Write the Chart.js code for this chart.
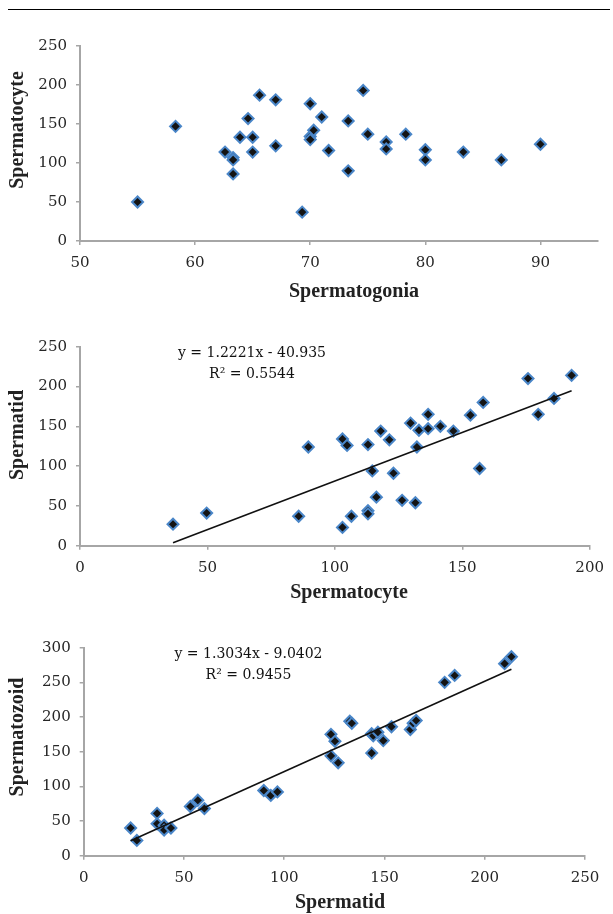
<!DOCTYPE html>
<html>
<head>
<meta charset="utf-8">
<script src="https://cdn.jsdelivr.net/npm/chart.js@4.4.0/dist/chart.umd.min.js"></script>
<style>
  body { margin: 0; background: #fff; }
  #page { position: relative; width: 613px; height: 914px; overflow: hidden; background: #fff; }
  #rule { position: absolute; left: 8px; top: 8.5px; width: 602px; height: 0; border-top: 1.5px solid #000; }
  canvas { position: absolute; left: 0; }
</style>
</head>
<body>
<div id="page">
  <div id="rule"></div>
  <canvas id="goniachart" width="613" height="310" style="top:0px"></canvas>
  <canvas id="cytechart" width="613" height="300" style="top:310px"></canvas>
  <canvas id="tidchart" width="613" height="304" style="top:610px"></canvas>
</div>
<script>
  // SPERMATOGONIA vs SPERMATOCYTE
  const spermatogonia_1 = [55, 58.3, 62.6, 63.3, 63.3, 63.3, 63.9, 64.6, 65, 65, 65.6, 67, 67, 69.3, 70, 70,
                           70, 70.3, 71, 71.6, 73.3, 73.3, 74.6, 75, 76.6, 76.6, 78.3, 80, 80, 83.3, 86.6, 90];
  const spermatocyte_1 = [50, 147, 114, 107, 104, 86, 133, 157, 133, 114, 187, 181, 122, 37, 176, 134,
                          130, 142, 159, 116, 154, 90, 193, 137, 127, 118, 137, 117, 104, 114, 104, 124];

  // SPERMATOCYTE vs SPERMATID
  const spermatocyte_2 = [36.5, 49.7, 85.8, 89.6, 103, 103, 104.8, 106.5, 113, 113, 113, 114.7, 116.3, 118, 121.4, 123,
                          126.4, 129.7, 131.6, 132.2, 133, 136.6, 136.6, 141.4, 146.5, 153.2, 156.8, 158.2, 175.8, 179.8, 186, 192.9];
  const spermatid_2 = [27, 41, 37, 124, 134, 23, 126, 37, 127, 44, 40, 94, 61, 144, 133, 91,
                       57, 154, 54, 124, 145, 165, 147, 150, 144, 164, 97, 180, 210, 165, 185, 214];
  const trend_x_2 = [36.5, 192.9];
  const trend_y_2 = [3.7, 194.8];
  const equation_2 = ['y = 1.2221x - 40.935', 'R² = 0.5544'];

  // SPERMATID vs SPERMATOZOID
  const spermatid_3 = [23.4, 26.5, 36.6, 36.6, 40.1, 40.1, 43.5, 53.2, 56.9, 60.2, 89.8, 93.3, 96.6, 123.3, 123.3, 125.3,
                       126.9, 132.7, 133.7, 143.6, 143.6, 144.4, 146.7, 149.4, 153.5, 162.9, 164.3, 165.8, 180, 185, 209.9, 213.3];
  const spermatozoid_3 = [40, 22, 61, 46, 44, 37, 40, 71, 80, 68, 94, 87, 92, 175, 144, 165,
                          134, 194, 191, 148, 176, 173, 178, 166, 186, 182, 191, 195, 250, 260, 277, 287];
  const trend_x_3 = [23.4, 213.3];
  const trend_y_3 = [21.5, 269];
  const equation_3 = ['y = 1.3034x - 9.0402', 'R² = 0.9455'];

  const titles_1 = ['Spermatogonia', 'Spermatocyte'];
  const titles_2 = ['Spermatocyte', 'Spermatid'];
  const titles_3 = ['Spermatid', 'Spermatozoid'];

  Chart.defaults.font.family = "'DejaVu Serif', serif";
  Chart.defaults.color = '#262626';

  const axis_grey = '#a6a6a6';
  const toPoints = (xs, ys) => xs.map((x, i) => ({x: x, y: ys[i]}));

  const pointSet = (xs, ys) => ({
    data: toPoints(xs, ys),
    pointStyle: 'rectRot',
    pointRadius: 5.5,
    pointBorderWidth: 2,
    pointBackgroundColor: '#141414',
    pointBorderColor: '#4a86c8',
    showLine: false,
    order: 2
  });

  const trendSet = (xs, ys) => ({
    data: toPoints(xs, ys),
    showLine: true,
    borderColor: '#111',
    borderWidth: 1.6,
    pointRadius: 0,
    order: 1
  });

  const scaleX = (min, max, step, height) => ({
    type: 'linear', min: min, max: max,
    grid: { drawOnChartArea: false, tickLength: 4, color: axis_grey, lineWidth: 1.5 },
    border: { color: axis_grey, width: 2 },
    ticks: { stepSize: step, includeBounds: false, padding: 9, font: { size: 15 } },
    afterFit: (scale) => { scale.height = height; }
  });

  const scaleY = (max, width) => ({
    type: 'linear', min: 0, max: max,
    grid: { drawOnChartArea: false, tickLength: 4, color: axis_grey, lineWidth: 1.5 },
    border: { color: axis_grey, width: 2 },
    ticks: { stepSize: 50, padding: 9, font: { size: 15 } },
    afterFit: (scale) => { scale.width = width; }
  });

  // axis titles (Excel puts them a little off the plot centre)
  const axisTitles = (titles, xPos, yPos) => ({
    id: 'axisTitles',
    afterDraw(chart) {
      const ctx = chart.ctx;
      ctx.save();
      ctx.font = "bold 20px 'Liberation Serif', serif";
      ctx.fillStyle = '#222';
      ctx.textAlign = 'center';
      ctx.textBaseline = 'middle';
      ctx.fillText(titles[0], xPos[0], xPos[1]);
      ctx.translate(yPos[0], yPos[1]);
      ctx.rotate(-Math.PI / 2);
      ctx.fillText(titles[1], 0, 0);
      ctx.restore();
    }
  });

  // trendline equation text
  const equationText = (lines, cx, cy) => ({
    id: 'equationText',
    afterDraw(chart) {
      const ctx = chart.ctx;
      ctx.save();
      ctx.font = "14px 'DejaVu Serif', serif";
      ctx.fillStyle = '#111';
      ctx.textAlign = 'center';
      ctx.textBaseline = 'middle';
      lines.forEach((t, i) => ctx.fillText(t, cx, cy + i * 21));
      ctx.restore();
    }
  });

  const basePlugins = { legend: { display: false }, tooltip: { enabled: false } };

  // Config Block - chart 1
  const config_gonia = {
    type: 'scatter',
    data: { datasets: [pointSet(spermatogonia_1, spermatocyte_1)] },
    plugins: [axisTitles(titles_1, [354, 292], [18, 130])],
    options: {
      responsive: false, animation: false,
      layout: { padding: { top: 46, right: 15, left: 0, bottom: 0 } },
      scales: { x: scaleX(50, 95, 10, 69), y: scaleY(250, 80) },
      plugins: basePlugins
    }
  };

  // Config Block - chart 2
  const config_cyte = {
    type: 'scatter',
    data: { datasets: [trendSet(trend_x_2, trend_y_2), pointSet(spermatocyte_2, spermatid_2)] },
    plugins: [equationText(equation_2, 252, 43), axisTitles(titles_2, [349, 283], [18, 125])],
    options: {
      responsive: false, animation: false,
      layout: { padding: { top: 36.7, right: 19, left: 0, bottom: 0 } },
      scales: { x: scaleX(0, 200, 50, 64.3), y: scaleY(250, 80) },
      plugins: basePlugins
    }
  };

  // Config Block - chart 3
  const config_tid = {
    type: 'scatter',
    data: { datasets: [trendSet(trend_x_3, trend_y_3), pointSet(spermatid_3, spermatozoid_3)] },
    plugins: [equationText(equation_3, 248.5, 44), axisTitles(titles_3, [340, 293], [18, 127])],
    options: {
      responsive: false, animation: false,
      layout: { padding: { top: 37.7, right: 28, left: 0, bottom: 0 } },
      scales: { x: scaleX(0, 250, 50, 58.3), y: scaleY(300, 83.7) },
      plugins: basePlugins
    }
  };

  // Render Block
  const goniachart = new Chart(document.getElementById('goniachart'), config_gonia);
  const cytechart = new Chart(document.getElementById('cytechart'), config_cyte);
  const tidchart = new Chart(document.getElementById('tidchart'), config_tid);
</script>
</body>
</html>
